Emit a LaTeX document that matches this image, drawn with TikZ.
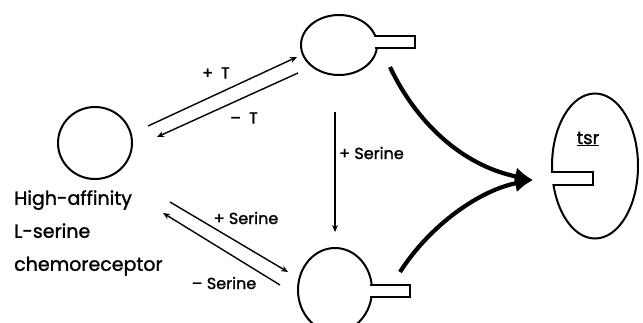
\documentclass[tikz,border=0pt]{standalone}
\usepackage{fontspec}
\setmainfont{Poppins}[FakeBold=1.4]
\usetikzlibrary{arrows.meta,shapes.geometric}
\tikzset{
  cellbody/.style={
    draw,
    ellipse,
    line width=2pt,
    inner sep=0pt,
    outer sep=0pt
  },
  stalkline/.style={
    line width=2pt,
    line join=miter
  },
  thinarrow/.style={
    line width=1.4pt,
    -{Stealth[length=7pt,width=6pt]}
  },
  boldarrow/.style={
    line width=4.2pt,
    -{Latex[length=18pt,width=18pt]}
  },
  steplabel/.style={
    font=\fontsize{16}{19}\selectfont,
    inner sep=0pt
  },
  namelabel/.style={
    font=\fontsize{19}{33}\selectfont,
    align=left,
    inner sep=0pt
  }
}

\begin{document}
\begin{tikzpicture}[x=1pt,y=-1pt]
  \useasboundingbox (0,0) rectangle (643,322);
  % receptor states
  \node[cellbody, minimum width=74, minimum height=72] (rest) at (95,143) {};
  \node[cellbody, minimum width=76, minimum height=60] (top) at (339,45) {};
  \node[cellbody, minimum width=74, minimum height=84] (bottom) at (335,290) {};
  \node[cellbody, minimum width=86, minimum height=145] (tsr) at (595,166) {};
  \foreach \cell/\dy in {top/-9,bottom/-5}{
    \fill[white] ([shift={(-4,\dy+1)}]\cell.east) rectangle ++(6,10);
    \draw[stalkline] ([shift={(-2,\dy)}]\cell.east) -- ++(40,0) -- ++(0,12) -- ++(-40,0);
  }
  \fill[white] ([shift={(-2,7)}]tsr.west) rectangle ++(6,11);
  \draw[stalkline] ([shift={(1,6)}]tsr.west) -- ++(40,0) -- ++(0,13) -- ++(-40,0);
  \node[steplabel, font=\fontsize{18}{20}\selectfont] (tsrname) at (588,139) {\underline{tsr}};
  \node[namelabel, anchor=west] (restname) at (14,233) {High-affinity\\L-serine\\chemoreceptor};
  % transitions
  \draw[thinarrow] ([shift={(53,-17)}]rest.center) -- ([shift={(-42,12)}]top.center);
  \draw[thinarrow] ([shift={(-41,28)}]top.center) -- ([shift={(62,-6)}]rest.center);
  \draw[thinarrow] ([shift={(-4,67)}]top.center) -- ([shift={(0,-58)}]bottom.center);
  \draw[thinarrow] ([shift={(75,59)}]rest.center) -- ([shift={(-47,-18)}]bottom.center);
  \draw[thinarrow] ([shift={(-55,-5)}]bottom.center) -- ([shift={(68,70)}]rest.center);
  \node[steplabel] (plust) at (216,73) {+\enspace T};
  \node[steplabel] (minust) at (244,118) {--\enspace T};
  \node[steplabel, anchor=west] (plusdown) at (339,153) {+ Serine};
  \node[steplabel] (plusser) at (246,218) {+ Serine};
  \node[steplabel] (minusser) at (224,283) {-- Serine};
  % signal to tsr
  \draw[boldarrow] ([shift={(51,22)}]top.center) .. controls (415,120) and (460,165) .. ([shift={(-62,14)}]tsr.center);
  \draw[boldarrow] ([shift={(65,-18)}]bottom.center) .. controls (430,225) and (480,190) .. ([shift={(-62,14)}]tsr.center);
\end{tikzpicture}
\end{document}
